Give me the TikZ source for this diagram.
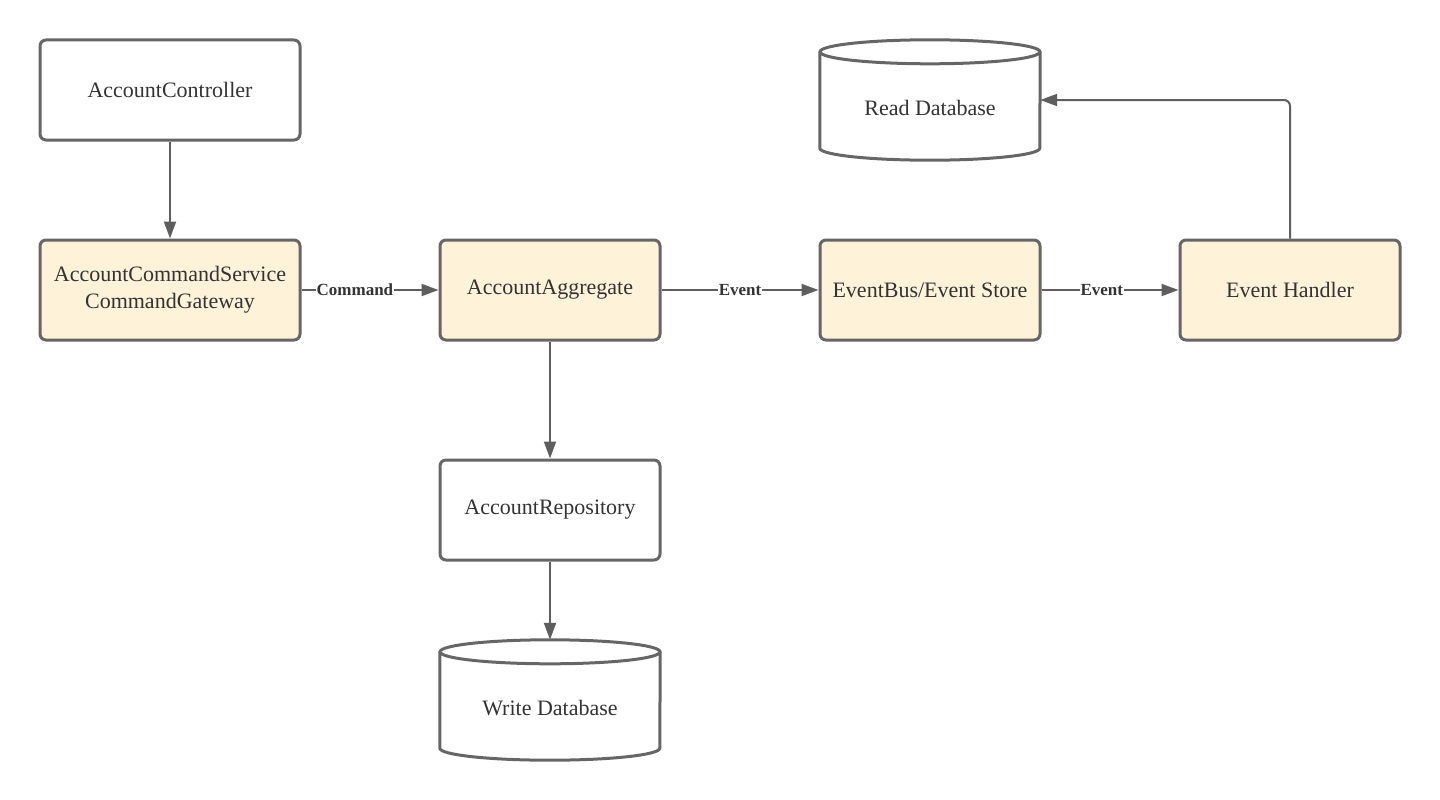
\documentclass[tikz,border=0pt]{standalone}
\usepackage{fontspec}
\setmainfont{Liberation Serif}
\usetikzlibrary{arrows.meta}
\definecolor{edgecol}{HTML}{5E5E5E}
\definecolor{boxline}{HTML}{666666}
\definecolor{cream}{HTML}{FEF2D9}
\definecolor{txt}{HTML}{333333}
\begin{document}
\begin{tikzpicture}[x=1pt,y=-1pt,
  box/.style={draw=boxline, line width=3pt, rounded corners=6pt, minimum width=260pt, minimum height=100pt,
    font=\fontsize{22}{27}\selectfont, text=txt, align=center, inner sep=0pt, fill=white},
  wbox/.style={box, minimum width=220pt},
  cbox/.style={box, fill=cream},
  ccbox/.style={box, fill=cream, minimum width=220pt},
  dbshape/.style={minimum width=220pt, minimum height=120pt, inner sep=0pt},
  dbtext/.style={font=\fontsize{22}{27}\selectfont, text=txt},
  cyl/.style={draw=boxline, line width=3pt, fill=white},
  conn/.style={draw=edgecol, line width=2pt, -{Triangle[length=17pt,width=12pt]}},
  elabel/.style={fill=white, font=\bfseries\fontsize{17}{19}\selectfont, text=txt, inner sep=1pt}
]
\useasboundingbox[fill=white] (0,0) rectangle (1440,800);

\node[box] (ctrl) at (170,90) {AccountController};
\node[cbox] (svc) at (170,290) {AccountCommandService\\CommandGateway};
\node[ccbox] (agg) at (550,290) {AccountAggregate};
\node[ccbox] (bus) at (930,290) {EventBus/Event Store};
\node[ccbox] (eh) at (1290,290) {Event Handler};
\node[wbox] (repo) at (550,510) {AccountRepository};

% Read database cylinder
\node[dbshape] (rdb) at (930,100) {};
\draw[cyl] ([yshift=-12pt]rdb.north west) -- ([yshift=12pt]rdb.south west)
  arc[start angle=180, end angle=360, x radius=110pt, y radius=12pt]
  -- ([yshift=-12pt]rdb.north east);
\draw[cyl] ([yshift=-12pt]rdb.north) ellipse[x radius=110pt, y radius=12pt];
\node[dbtext] (rdbt) at (930,108) {Read Database};

% Write database cylinder
\node[dbshape] (wdb) at (550,700) {};
\draw[cyl] ([yshift=-12pt]wdb.north west) -- ([yshift=12pt]wdb.south west)
  arc[start angle=180, end angle=360, x radius=110pt, y radius=12pt]
  -- ([yshift=-12pt]wdb.north east);
\draw[cyl] ([yshift=-12pt]wdb.north) ellipse[x radius=110pt, y radius=12pt];
\node[dbtext] (wdbt) at (550,708) {Write Database};

% connectors
\draw[conn] (ctrl.south) -- (svc.north);
\draw[conn] (svc.east) -- node[elabel, pos=0.39] {Command} (agg.west);
\draw[conn] (agg.east) -- node[elabel, pos=0.5] {Event} (bus.west);
\draw[conn] (bus.east) -- node[elabel, pos=0.44] {Event} (eh.west);
\draw[conn] (agg.south) -- (repo.north);
\draw[conn] (repo.south) -- (wdb.north);
\draw[conn, rounded corners=6pt] (eh.north) |- (rdb.east);
\end{tikzpicture}
\end{document}
